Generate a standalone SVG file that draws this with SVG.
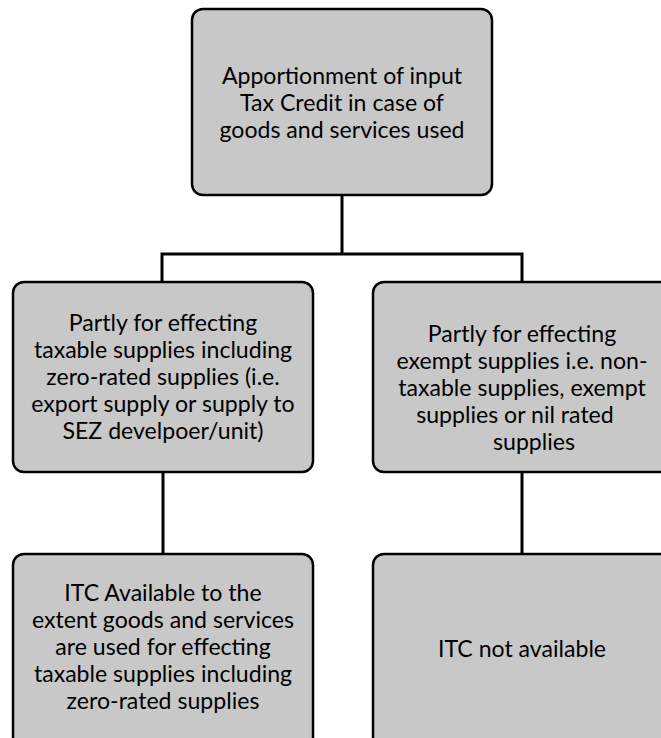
<svg xmlns="http://www.w3.org/2000/svg" width="661" height="738" viewBox="0 0 661 738">
<style>
.box{fill:#c8c8c8;stroke:#000;stroke-width:2.5}
.t{font-family:Lato,"Open Sans",sans-serif;font-size:23.1px;fill:#000;text-anchor:middle}
.c{stroke:#000;stroke-width:3;fill:none}
</style>
<rect width="661" height="738" fill="#fff"/>
<g id="connectors">
<path class="c" d="M342 195V254M162 254H522M162 252.5V282M522 252.5V282M163 472V554M522 472V554"/>
</g>
<g id="top">
<rect class="box" x="192" y="9" width="300" height="186" rx="11"/>
<text class="t" x="342" y="84">Apportionment of input</text>
<text class="t" x="342" y="111">Tax Credit in case of</text>
<text class="t" x="342" y="138">goods and services used</text>
</g>
<g id="left-mid">
<rect class="box" x="13" y="282" width="300" height="190" rx="11"/>
<text class="t" x="163" y="331">Partly for effecting</text>
<text class="t" x="163" y="358">taxable supplies including</text>
<text class="t" x="163" y="385">zero-rated supplies (i.e.</text>
<text class="t" x="163" y="412">export supply or supply to</text>
<text class="t" x="163" y="439">SEZ develpoer/unit)</text>
</g>
<g id="right-mid">
<rect class="box" x="373" y="282" width="300" height="190" rx="11"/>
<text class="t" x="522" y="342">Partly for effecting</text>
<text class="t" x="522" y="369">exempt supplies i.e. non-</text>
<text class="t" x="522" y="396">taxable supplies, exempt</text>
<text class="t" x="515" y="423">supplies or nil rated</text>
<text class="t" x="534" y="450">supplies</text>
</g>
<g id="left-bottom">
<rect class="box" x="13" y="554" width="300" height="220" rx="11"/>
<text class="t" x="163" y="601">ITC Available to the</text>
<text class="t" x="163" y="628">extent goods and services</text>
<text class="t" x="163" y="655">are used for effecting</text>
<text class="t" x="163" y="682">taxable supplies including</text>
<text class="t" x="163" y="709">zero-rated supplies</text>
</g>
<g id="right-bottom">
<rect class="box" x="373" y="554" width="300" height="220" rx="11"/>
<text class="t" x="522" y="657">ITC not available</text>
</g>
</svg>
